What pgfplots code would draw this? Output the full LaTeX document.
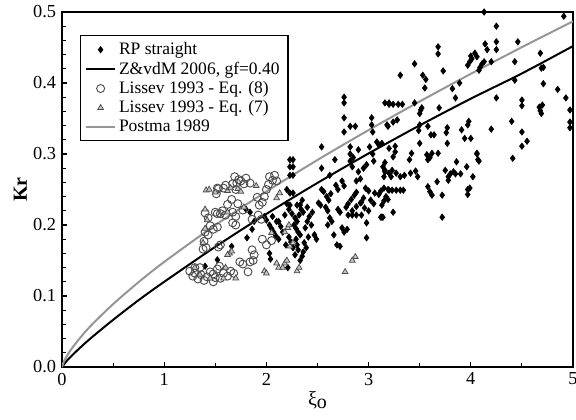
\documentclass[border=0pt]{standalone}
\usepackage{fontspec}
\setmainfont{Liberation Serif}
\usepackage{pgfplots}
\pgfplotsset{compat=1.18}
\definecolor{postgray}{RGB}{150,150,150}
\definecolor{circgray}{RGB}{75,75,75}
\begin{document}
\begin{tikzpicture}
\begin{axis}[
  scale only axis, width=306.6pt, height=213pt,
  xmin=0, xmax=5, ymin=0, ymax=0.5,
  axis line style={line width=0.8pt},
  tick pos=left, tick align=inside,
  xtick={0,1,2,3,4,5}, minor xtick={0.5,1.5,2.5,3.5,4.5},
  ytick={0,0.1,0.2,0.3,0.4,0.5}, minor ytick={0.02,0.04,0.06,0.08,0.12,0.14,0.16,0.18,0.22,0.24,0.26,0.28,0.32,0.34,0.36,0.38,0.42,0.44,0.46,0.48},
  major tick length=3.2pt, minor tick length=2.2pt,
  every tick/.style={black, line width=0.7pt},
  yticklabel style={/pgf/number format/.cd, fixed, fixed zerofill, precision=1},
  /pgf/number format/assume math mode=true,
  tick label style={font=\fontsize{11}{12}\selectfont},
  xlabel={ξ\raisebox{-0.3ex}{o}}, ylabel={\textbf{Kr}},
  label style={font=\fontsize{12}{13}\selectfont},
  xlabel style={yshift=3pt},
  ylabel style={yshift=-3pt},
  legend style={at={(rel axis cs:0.035,0.935)}, anchor=north west, draw=black, line width=0.8pt,
    font=\fontsize{10.5}{12}\selectfont, row sep=-1.2pt, inner xsep=3pt, inner ysep=2pt},
  legend cell align=left,
  legend image post style={line width=1pt},
]
\addplot[only marks, mark=diamond*, mark size=1.9pt, mark options={fill=black, draw=black, line width=0.4pt}] table {
1.40 0.142
1.52 0.151
1.66 0.170
1.84 0.218
1.80 0.222
1.86 0.194
1.81 0.182
1.88 0.205
2.23 0.292
2.26 0.292
2.23 0.282
2.26 0.282
2.23 0.270
2.26 0.270
2.20 0.250
2.20 0.230
2.23 0.228
1.98 0.212
2.00 0.207
2.03 0.200
2.05 0.195
2.07 0.190
2.09 0.185
2.12 0.180
2.03 0.160
2.04 0.152
2.10 0.205
2.14 0.198
2.18 0.214
2.22 0.222
2.25 0.216
2.28 0.210
2.30 0.205
2.32 0.214
2.34 0.222
2.36 0.218
2.27 0.200
2.29 0.195
2.31 0.190
2.33 0.186
2.29 0.180
2.30 0.172
2.31 0.165
2.28 0.158
2.33 0.150
2.35 0.156
2.22 0.183
2.24 0.176
2.26 0.168
2.38 0.196
2.40 0.205
2.42 0.212
2.45 0.218
2.26 0.245
2.23 0.245
2.30 0.228
2.33 0.228
2.35 0.235
2.40 0.225
2.44 0.200
2.47 0.186
2.37 0.175
2.39 0.168
2.21 0.140
2.16 0.190
2.12 0.205
2.06 0.212
2.19 0.172
2.36 0.162
2.41 0.183
2.54 0.310
2.54 0.280
2.67 0.292
2.76 0.380
2.76 0.372
2.76 0.351
2.76 0.331
2.82 0.339
2.87 0.339
2.82 0.310
2.82 0.300
2.82 0.290
2.85 0.295
2.90 0.306
3.03 0.351
3.03 0.341
3.04 0.331
3.16 0.372
3.20 0.372
3.18 0.341
3.08 0.317
3.10 0.313
3.01 0.310
3.04 0.300
3.05 0.290
2.84 0.282
2.90 0.275
2.92 0.265
2.88 0.262
2.74 0.262
2.76 0.255
2.54 0.250
2.56 0.247
2.59 0.240
2.61 0.235
2.63 0.244
2.51 0.231
2.53 0.228
2.58 0.225
2.60 0.220
2.62 0.210
2.60 0.200
2.70 0.222
2.72 0.218
2.78 0.225
2.80 0.230
2.83 0.236
2.86 0.242
2.88 0.246
2.84 0.220
2.88 0.226
2.92 0.231
2.96 0.224
3.00 0.220
2.97 0.252
3.00 0.248
3.06 0.245
3.10 0.243
3.12 0.248
3.15 0.252
3.19 0.250
3.16 0.275
3.14 0.282
3.16 0.288
2.95 0.280
2.98 0.285
2.80 0.214
2.84 0.214
2.88 0.214
2.93 0.214
3.12 0.211
3.14 0.211
2.74 0.196
2.76 0.190
2.79 0.194
2.98 0.203
2.98 0.182
2.47 0.186
2.49 0.180
2.64 0.205
2.66 0.186
2.69 0.172
2.72 0.170
2.93 0.232
2.95 0.238
3.02 0.235
3.05 0.230
2.68 0.256
2.70 0.250
2.62 0.270
3.68 0.451
3.68 0.441
3.45 0.427
3.31 0.411
3.53 0.411
3.56 0.405
3.73 0.417
3.55 0.393
3.82 0.392
3.89 0.400
3.99 0.430
4.00 0.438
4.04 0.442
3.97 0.425
3.20 0.370
3.24 0.370
3.29 0.370
3.33 0.370
3.45 0.372
3.51 0.362
3.50 0.357
3.52 0.365
3.69 0.365
3.85 0.379
3.19 0.339
3.24 0.345
3.28 0.348
3.50 0.341
3.49 0.333
3.58 0.339
3.61 0.327
3.64 0.327
3.77 0.337
3.76 0.330
3.91 0.334
3.97 0.341
3.98 0.346
3.94 0.322
4.00 0.322
3.13 0.315
3.26 0.311
3.26 0.303
3.20 0.308
3.50 0.315
3.77 0.315
3.42 0.301
3.57 0.299
3.60 0.295
3.62 0.301
3.68 0.301
4.06 0.301
3.24 0.296
3.40 0.292
3.58 0.292
3.86 0.289
4.07 0.292
3.96 0.282
3.16 0.277
3.20 0.273
3.23 0.277
3.27 0.273
3.75 0.277
3.80 0.272
3.78 0.268
3.83 0.275
3.41 0.273
3.46 0.276
3.48 0.268
3.85 0.272
3.90 0.272
3.15 0.268
3.22 0.268
3.31 0.268
3.35 0.270
3.78 0.263
3.67 0.261
3.58 0.254
3.60 0.247
3.62 0.242
3.72 0.242
3.97 0.250
3.97 0.243
3.20 0.249
3.23 0.249
3.27 0.249
3.31 0.249
3.34 0.249
3.17 0.240
3.15 0.234
3.13 0.228
3.19 0.236
3.24 0.218
3.13 0.211
3.72 0.211
4.13 0.500
4.91 0.494
4.25 0.480
4.14 0.455
4.16 0.447
4.25 0.458
4.25 0.447
4.46 0.458
4.01 0.434
4.06 0.437
4.09 0.422
4.11 0.427
4.13 0.430
4.08 0.418
4.20 0.430
4.43 0.430
4.68 0.442
4.69 0.421
4.71 0.422
4.43 0.404
4.71 0.399
4.85 0.391
4.93 0.379
4.25 0.379
4.50 0.376
4.50 0.368
4.67 0.366
4.68 0.361
4.69 0.357
4.70 0.369
4.97 0.362
4.97 0.345
4.97 0.337
4.40 0.346
4.20 0.335
4.50 0.331
4.55 0.318
4.50 0.311
4.06 0.300
4.08 0.290
4.41 0.294
4.02 0.268
3.99 0.252
};
\addlegendentry{RP straight}
\addplot[black, line width=1.2pt, smooth] coordinates {
(0,0) (0.05,0.0092) (0.1,0.0166) (0.2,0.0302) (0.3,0.0428) (0.5,0.0664) (0.75,0.0942) (1,0.1200) (1.5,0.1693) (2,0.2156) (2.5,0.2593) (3,0.3008) (3.5,0.3403) (4,0.3779) (4.5,0.4135) (5,0.4520)
};
\addlegendentry{Z\&vdM 2006, gf=0.40}
\addplot[only marks, mark=o, mark size=2.4pt, mark options={draw=circgray, line width=0.55pt}] table {
1.75 0.262
1.78 0.258
1.80 0.266
1.84 0.259
1.67 0.258
1.70 0.250
1.52 0.252
1.51 0.244
1.53 0.251
1.58 0.252
1.60 0.256
1.71 0.259
1.73 0.264
1.69 0.268
2.03 0.268
2.06 0.263
2.02 0.257
2.00 0.250
1.98 0.240
1.96 0.232
2.08 0.270
2.10 0.262
1.50 0.218
1.55 0.216
1.60 0.214
1.67 0.218
1.70 0.212
1.77 0.221
1.67 0.203
1.70 0.200
1.48 0.194
1.45 0.199
1.92 0.214
1.95 0.208
1.86 0.208
1.52 0.216
1.57 0.220
1.40 0.217
1.43 0.210
1.40 0.190
1.43 0.186
1.52 0.197
1.39 0.177
1.38 0.166
1.41 0.168
1.55 0.172
1.53 0.169
1.86 0.165
1.88 0.158
1.87 0.150
1.74 0.148
1.77 0.145
1.84 0.148
1.54 0.142
1.52 0.138
1.48 0.131
1.50 0.126
1.82 0.134
1.25 0.135
1.28 0.128
1.30 0.132
1.33 0.124
1.36 0.130
1.39 0.122
1.42 0.127
1.45 0.134
1.48 0.120
1.55 0.125
1.58 0.132
1.62 0.128
1.65 0.135
1.30 0.140
1.35 0.140
1.68 0.132
2.05 0.178
2.00 0.172
1.96 0.180
1.62 0.229
1.66 0.236
1.72 0.230
1.91 0.239
1.93 0.228
};
\addlegendentry{Lissev 1993 - Eq. (8)}
\addplot[only marks, mark=triangle*, mark size=2pt, mark options={draw=circgray, fill=gray!45, line width=0.45pt}] table {
1.41 0.249
1.44 0.250
1.50 0.246
1.62 0.248
1.65 0.252
1.72 0.251
1.75 0.247
1.90 0.255
2.13 0.245
2.10 0.238
1.62 0.218
1.40 0.222
1.42 0.207
1.40 0.195
1.64 0.160
1.62 0.158
1.66 0.163
2.21 0.196
2.05 0.189
2.10 0.146
2.12 0.140
1.98 0.135
2.00 0.132
2.77 0.134
2.87 0.155
2.84 0.150
2.23 0.170
2.26 0.175
2.18 0.146
2.16 0.140
2.20 0.150
2.18 0.190
2.22 0.200
1.38 0.175
1.35 0.130
1.45 0.125
1.60 0.140
1.58 0.125
1.70 0.125
1.78 0.225
1.30 0.140
2.30 0.135
2.32 0.140
};
\addlegendentry{Lissev 1993 - Eq. (7)}
\addplot[postgray, line width=1.2pt, smooth] coordinates {
(0,0) (0.02,0.0081) (0.05,0.0161) (0.1,0.0269) (0.2,0.0450) (0.3,0.0607) (0.5,0.0886) (0.75,0.1196) (1,0.1480) (1.5,0.1998) (2,0.2472) (2.5,0.2916) (3,0.3337) (3.5,0.3740) (4,0.4129) (4.5,0.4505) (5,0.4869)
};
\addlegendentry{Postma 1989}
\coordinate (sw) at (rel axis cs:0,0);
\coordinate (ne) at (rel axis cs:1,1);
\end{axis}
\pgfresetboundingbox
\useasboundingbox ([xshift=-37.2pt,yshift=-31.2pt]sw) rectangle ([xshift=1.8pt,yshift=7.2pt]ne);
\end{tikzpicture}
\end{document}
